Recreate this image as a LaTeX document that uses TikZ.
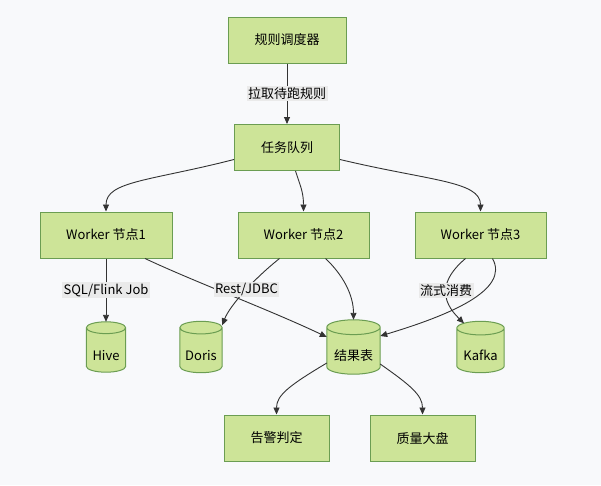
\documentclass[tikz,border=0pt]{standalone}
\usepackage{fontspec}
\setmainfont{Noto Sans CJK SC}
\usetikzlibrary{arrows.meta,backgrounds,calc}
\definecolor{bgcol}{HTML}{F8F9FB}
\definecolor{nodefill}{HTML}{CDE498}
\definecolor{nodeline}{HTML}{6B9D52}
\definecolor{edgecol}{HTML}{333333}
\definecolor{lblbg}{HTML}{EAEAEA}
\newcommand\cylshape[2]{%
  \path[draw=nodeline, fill=nodefill, line width=1pt]
    let \p1=(#1.north west), \p2=(#1.south east), \n1={(\x2-\x1)/2} in
    (\x1,\y1-#2) -- (\x1,\y2+#2)
    arc[start angle=180,end angle=360,x radius={\n1*1pt},y radius=#2]
    -- (\x2,\y1-#2)
    arc[start angle=0,end angle=180,x radius={\n1*1pt},y radius=#2] -- cycle
    (\x1,\y1-#2) arc[start angle=180,end angle=360,x radius={\n1*1pt},y radius=#2];}
\begin{document}
\begin{tikzpicture}[x=1pt,y=-1pt,
  font=\fontsize{13}{15}\selectfont,
  box/.style={draw=nodeline, fill=nodefill, line width=1pt, inner sep=0pt, minimum height=46pt},
  db/.style={inner sep=0pt, text height=26.6pt, text depth=0pt},
  edge/.style={draw=edgecol, line width=0.9pt, -{Triangle[length=7pt,width=6pt]}},
  lbl/.style={fill=lblbg, inner sep=1.5pt, text=black}]
\useasboundingbox (0,0) rectangle (601,485);

\node[box, minimum width=118pt] (sched) at (287,40) {规则调度器};
\node[box, minimum width=105pt] (queue) at (287,147.5) {任务队列};
\node[box, minimum width=132pt] (w1) at (106,235) {Worker 节点1};
\node[box, minimum width=131pt] (w2) at (303.5,235) {Worker 节点2};
\node[box, minimum width=131pt] (w3) at (480.5,235) {Worker 节点3};

\node[db, minimum width=39pt, minimum height=50pt] (hive) at (106,347) {Hive};
\node[db, minimum width=42pt, minimum height=51pt] (doris) at (201,347) {Doris};
\node[db, minimum width=53pt, minimum height=54pt] (res) at (353.5,347) {结果表};
\node[db, minimum width=47pt, minimum height=51pt] (kafka) at (480.5,347) {Kafka};

\node[box, minimum width=105pt] (alarm) at (276.5,438) {告警判定};
\node[box, minimum width=105pt] (qual) at (422.5,438) {质量大盘};

\begin{scope}[on background layer]
  \fill[bgcol] (0,0) rectangle (601,485);
  \cylshape{hive}{5.9pt}
  \cylshape{doris}{6.3pt}
  \cylshape{res}{7.4pt}
  \cylshape{kafka}{6.8pt}
\end{scope}

\draw[edge] (sched) -- node[lbl] {拉取待跑规则} (queue);

\draw[edge] ([yshift=-12pt]queue.west) .. controls (150,181) and (106,181) .. (w1.north);
\draw[edge] ([xshift=8.5pt]queue.south) .. controls (300,185) and (303.5,192) .. (w2.north);
\draw[edge] ([yshift=-12pt]queue.east) .. controls (430,181) and (480.5,181) .. (w3.north);

\draw[edge] ([xshift=39pt]w1.south) .. controls (195,282) and (270,310) .. ([yshift=10pt]res.west);
\draw[edge] (w1) -- node[lbl] {SQL/Flink Job} (hive);

\draw[edge] ([xshift=-24pt]w2.south) .. controls (255,278) and (230,305) .. node[lbl, pos=0.47] {Rest/JDBC} ([yshift=-4pt]doris.north east);
\draw[edge] ([xshift=22pt]w2.south) .. controls (343,275) and (353.5,295) .. (res.north);

\draw[edge] ([xshift=12pt]w3.south) .. controls (510,290) and (450,315) .. ([yshift=11pt]res.east);
\draw[edge] ([xshift=-15pt]w3.south) .. controls (440,280) and (440,300) .. node[lbl, pos=0.5] {流式消费} ([xshift=-16.5pt,yshift=-2pt]kafka.north);

\draw[edge] ([yshift=-16pt]res.west) .. controls (290,385) and (276.5,395) .. (alarm.north);
\draw[edge] ([yshift=-17pt]res.east) .. controls (410,385) and (422.5,395) .. (qual.north);
\end{tikzpicture}
\end{document}
